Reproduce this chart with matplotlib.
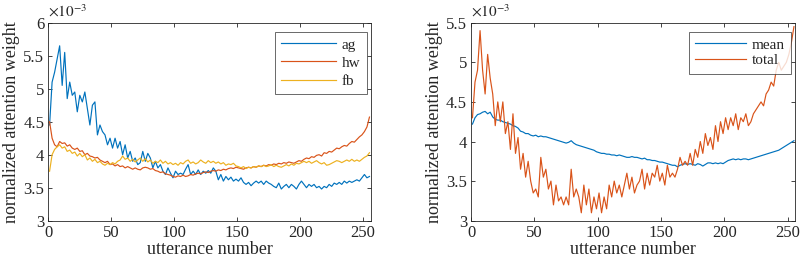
import numpy as np
import matplotlib
matplotlib.use("Agg")
import matplotlib.pyplot as plt

plt.rcParams['font.family'] = ['Liberation Serif', 'DejaVu Serif']
plt.rcParams['mathtext.fontset'] = 'stix'

utterance = np.arange(1, 257, 2)

ag = [4.45, 5.1, 5.25, 5.45, 5.65, 5.05, 5.55, 4.85, 5.1, 4.9, 4.95, 4.65, 4.9, 4.8, 4.95, 4.7,
      4.45, 4.75, 4.8, 4.3, 4.45, 4.35, 4.3, 4.15, 4.25, 4.1, 4.25, 4.1, 4.2, 4.0, 4.15, 3.95,
      4.05, 3.9, 3.95, 3.85, 3.88, 4.05, 3.9, 4.02, 3.95, 3.8, 3.9, 3.8, 3.85, 3.75, 3.7, 3.8,
      3.72, 3.65, 3.75, 3.7, 3.72, 3.7, 3.78, 3.85, 3.7, 3.75, 3.7, 3.77, 3.7, 3.75, 3.72, 3.76,
      3.72, 3.8, 3.75, 3.62, 3.7, 3.6, 3.67, 3.62, 3.66, 3.6, 3.63, 3.6, 3.65, 3.58, 3.55, 3.58,
      3.53, 3.57, 3.6, 3.57, 3.6, 3.55, 3.6, 3.57, 3.55, 3.52, 3.5, 3.57, 3.48, 3.52, 3.55, 3.5,
      3.55, 3.52, 3.48, 3.55, 3.6, 3.55, 3.5, 3.55, 3.52, 3.55, 3.5, 3.52, 3.48, 3.52, 3.5, 3.55,
      3.52, 3.57, 3.55, 3.58, 3.55, 3.6, 3.57, 3.6, 3.58, 3.6, 3.62, 3.6, 3.65, 3.7, 3.65, 3.67]

hw = [4.5, 4.25, 4.15, 4.12, 4.2, 4.17, 4.18, 4.13, 4.15, 4.1, 4.08, 4.1, 4.05, 4.06, 4.0, 4.02,
      3.98, 3.97, 3.95, 3.96, 3.92, 3.9, 3.88, 3.9, 3.85, 3.86, 3.83, 3.85, 3.82, 3.83, 3.8, 3.82,
      3.8, 3.78, 3.8, 3.78, 3.77, 3.8, 3.81, 3.8, 3.78, 3.79, 3.76, 3.75, 3.73, 3.74, 3.71, 3.7,
      3.69, 3.67, 3.66, 3.68, 3.67, 3.69, 3.67, 3.68, 3.7, 3.69, 3.71, 3.72, 3.71, 3.73, 3.74, 3.73,
      3.75, 3.76, 3.75, 3.77, 3.76, 3.78, 3.77, 3.79, 3.8, 3.79, 3.81, 3.8, 3.79, 3.78, 3.8, 3.81,
      3.8, 3.82, 3.81, 3.83, 3.82, 3.84, 3.83, 3.85, 3.84, 3.86, 3.85, 3.87, 3.86, 3.88, 3.87, 3.89,
      3.88, 3.87, 3.89, 3.91, 3.9, 3.93, 3.95, 3.94, 3.97, 3.96, 3.99, 4.0, 3.98, 4.03, 4.02, 4.05,
      4.04, 4.07, 4.1, 4.09, 4.12, 4.14, 4.13, 4.17, 4.2, 4.19, 4.23, 4.27, 4.3, 4.35, 4.42, 4.57]

fb = [3.75, 4.0, 4.08, 4.12, 4.15, 4.1, 4.12, 4.05, 4.07, 4.02, 4.04, 3.98, 4.02, 3.97, 4.0, 3.92,
      3.95, 3.9, 3.93, 3.88, 3.9, 3.86, 3.84, 3.87, 3.85, 3.88, 3.86, 3.9, 3.92, 3.98, 3.93, 3.95,
      3.9, 3.93, 3.89, 3.92, 3.95, 3.9, 3.94, 3.89, 3.92, 3.87, 3.9, 3.88, 3.92, 3.87, 3.9, 3.86,
      3.88, 3.85, 3.87, 3.84, 3.88, 3.86, 3.9, 3.92, 3.87, 3.89, 3.86, 3.88, 3.92, 3.89, 3.87, 3.91,
      3.88, 3.9, 3.87, 3.89, 3.86, 3.88, 3.84, 3.86, 3.85, 3.87, 3.83, 3.82, 3.8, 3.82, 3.79, 3.81,
      3.8, 3.82, 3.81, 3.83, 3.82, 3.84, 3.82, 3.83, 3.85, 3.82, 3.84, 3.82, 3.81, 3.83, 3.85, 3.83,
      3.86, 3.84, 3.87, 3.86, 3.88, 3.9, 3.88, 3.9, 3.87, 3.89, 3.91, 3.88, 3.86, 3.88, 3.84, 3.85,
      3.87, 3.89, 3.91, 3.9, 3.88, 3.9, 3.92, 3.9, 3.93, 3.9, 3.92, 3.9, 3.93, 3.96, 3.98, 4.03]

mean = [4.22, 4.3, 4.34, 4.35, 4.37, 4.38, 4.35, 4.37, 4.31, 4.28, 4.27, 4.27, 4.25, 4.24, 4.23, 4.22,
        4.2, 4.19, 4.17, 4.13, 4.12, 4.1, 4.1, 4.08, 4.07, 4.08, 4.06, 4.07, 4.06, 4.06, 4.05, 4.04,
        4.03, 4.02, 4.01, 4.0, 3.99, 3.98, 3.99, 4.01, 3.98, 3.96, 3.95, 3.94, 3.93, 3.92, 3.91, 3.9,
        3.89, 3.87, 3.86, 3.85, 3.85, 3.84, 3.84, 3.83, 3.83, 3.82, 3.83, 3.82, 3.81, 3.8, 3.8, 3.81,
        3.8, 3.8, 3.79, 3.78, 3.79, 3.77, 3.77, 3.76, 3.76, 3.75, 3.74, 3.74, 3.73, 3.72, 3.71, 3.7,
        3.7, 3.68, 3.7, 3.71, 3.72, 3.71, 3.72, 3.71, 3.7, 3.72, 3.71, 3.69, 3.71, 3.73, 3.73, 3.72,
        3.73, 3.72, 3.73, 3.72, 3.74, 3.76, 3.77, 3.78, 3.77, 3.78, 3.77, 3.78, 3.78, 3.77, 3.78, 3.79,
        3.8, 3.81, 3.82, 3.83, 3.84, 3.85, 3.86, 3.87, 3.88, 3.89, 3.91, 3.93, 3.95, 3.97, 3.99, 4.01]

total = [4.3, 4.75, 4.9, 5.4, 4.9, 4.6, 5.1, 4.8, 4.6, 4.2, 4.5, 4.25, 4.5, 4.1, 4.25, 3.9,
         4.35, 3.85, 4.05, 3.65, 3.85, 3.55, 3.75, 3.5, 3.35, 3.4, 3.3, 3.8, 3.55, 3.65, 3.4, 3.5,
         3.2, 3.45, 3.25, 3.3, 3.2, 3.3, 3.2, 3.65, 3.3, 3.4, 3.3, 3.1, 3.45, 3.2, 3.4, 3.1,
         3.3, 3.15, 3.35, 3.1, 3.3, 3.15, 3.45, 3.3, 3.5, 3.35, 3.45, 3.3, 3.45, 3.6, 3.4, 3.55,
         3.35, 3.45, 3.5, 3.65, 3.4, 3.6, 3.45, 3.6, 3.55, 3.7, 3.5, 3.6, 3.45, 3.7, 3.55, 3.6,
         3.55, 3.65, 3.8, 3.7, 3.75, 3.7, 3.85, 3.7, 3.9, 3.8, 4.0, 3.85, 4.1, 3.95, 4.05, 3.9,
         4.2, 4.0, 4.25, 4.1, 4.3, 4.15, 4.3, 4.2, 4.35, 4.15, 4.3, 4.25, 4.35, 4.2, 4.25, 4.35,
         4.4, 4.45, 4.5, 4.45, 4.6, 4.65, 4.75, 4.7, 4.9, 5.0, 4.9, 4.95, 5.0, 5.1, 5.25, 5.45]

x_ticks = [0, 50, 100, 150, 200, 250]
left_yticks = [3, 3.5, 4, 4.5, 5, 5.5, 6]
right_yticks = [3, 3.5, 4, 4.5, 5, 5.5]

BLUE = '#0072BD'
ORANGE = '#D95319'
YELLOW = '#EDB120'
AXC = '#262626'

fig = plt.figure(figsize=(8, 2.64), dpi=100)
ax1 = fig.add_axes([0.0604, 0.164, 0.403, 0.750])
ax2 = fig.add_axes([0.589, 0.164, 0.405, 0.750])

def scale(v):
    return np.array(v) * 1e-3

ax1.plot(utterance, scale(ag), color=BLUE, lw=0.85, label='ag')
ax1.plot(utterance, scale(hw), color=ORANGE, lw=0.85, label='hw')
ax1.plot(utterance, scale(fb), color=YELLOW, lw=0.85, label='fb')
ax2.plot(utterance, scale(mean), color=BLUE, lw=0.85, label='mean')
ax2.plot(utterance, scale(total), color=ORANGE, lw=0.85, label='total')

for ax, yt, hl, ls in ((ax1, left_yticks, 3.6, 0.3), (ax2, right_yticks, 3.3, 0.15)):
    ax.set_xlim(0, 256)
    ax.set_ylim(yt[0] * 1e-3, yt[-1] * 1e-3)
    ax.set_xticks(x_ticks)
    ax.set_xticklabels([str(t) for t in x_ticks])
    ax.set_yticks([t * 1e-3 for t in yt])
    ax.set_yticklabels([('%g' % t) for t in yt])
    ax.tick_params(direction='in', top=True, right=True, length=3, width=0.6,
                   colors=AXC, labelsize=12, pad=3)
    for s in ax.spines.values():
        s.set_color(AXC)
        s.set_linewidth(0.6)
    ax.set_xlabel('utterance number', fontsize=13, color=AXC, labelpad=0)
    ax.set_ylabel('normalized attention weight', fontsize=13, color=AXC, labelpad=2)
    ax.text(0.0, 1.015, r'$\times10^{-3}$', transform=ax.transAxes, fontsize=11,
            color=AXC, ha='left', va='bottom')
    bb = ax.get_position()
    wpx = bb.width * 800
    hpx = bb.height * 264
    leg = ax.legend(loc='upper right', bbox_to_anchor=(1 - 4 / wpx, 1 - 9 / hpx),
                    fontsize=11, frameon=True, fancybox=False,
                    edgecolor=AXC, handlelength=hl, borderaxespad=0,
                    labelspacing=ls, handletextpad=0.4, borderpad=0.4)
    leg.get_frame().set_linewidth(0.6)
    for t in leg.get_texts():
        t.set_color(AXC)

fig.savefig('out.png', dpi=100)
